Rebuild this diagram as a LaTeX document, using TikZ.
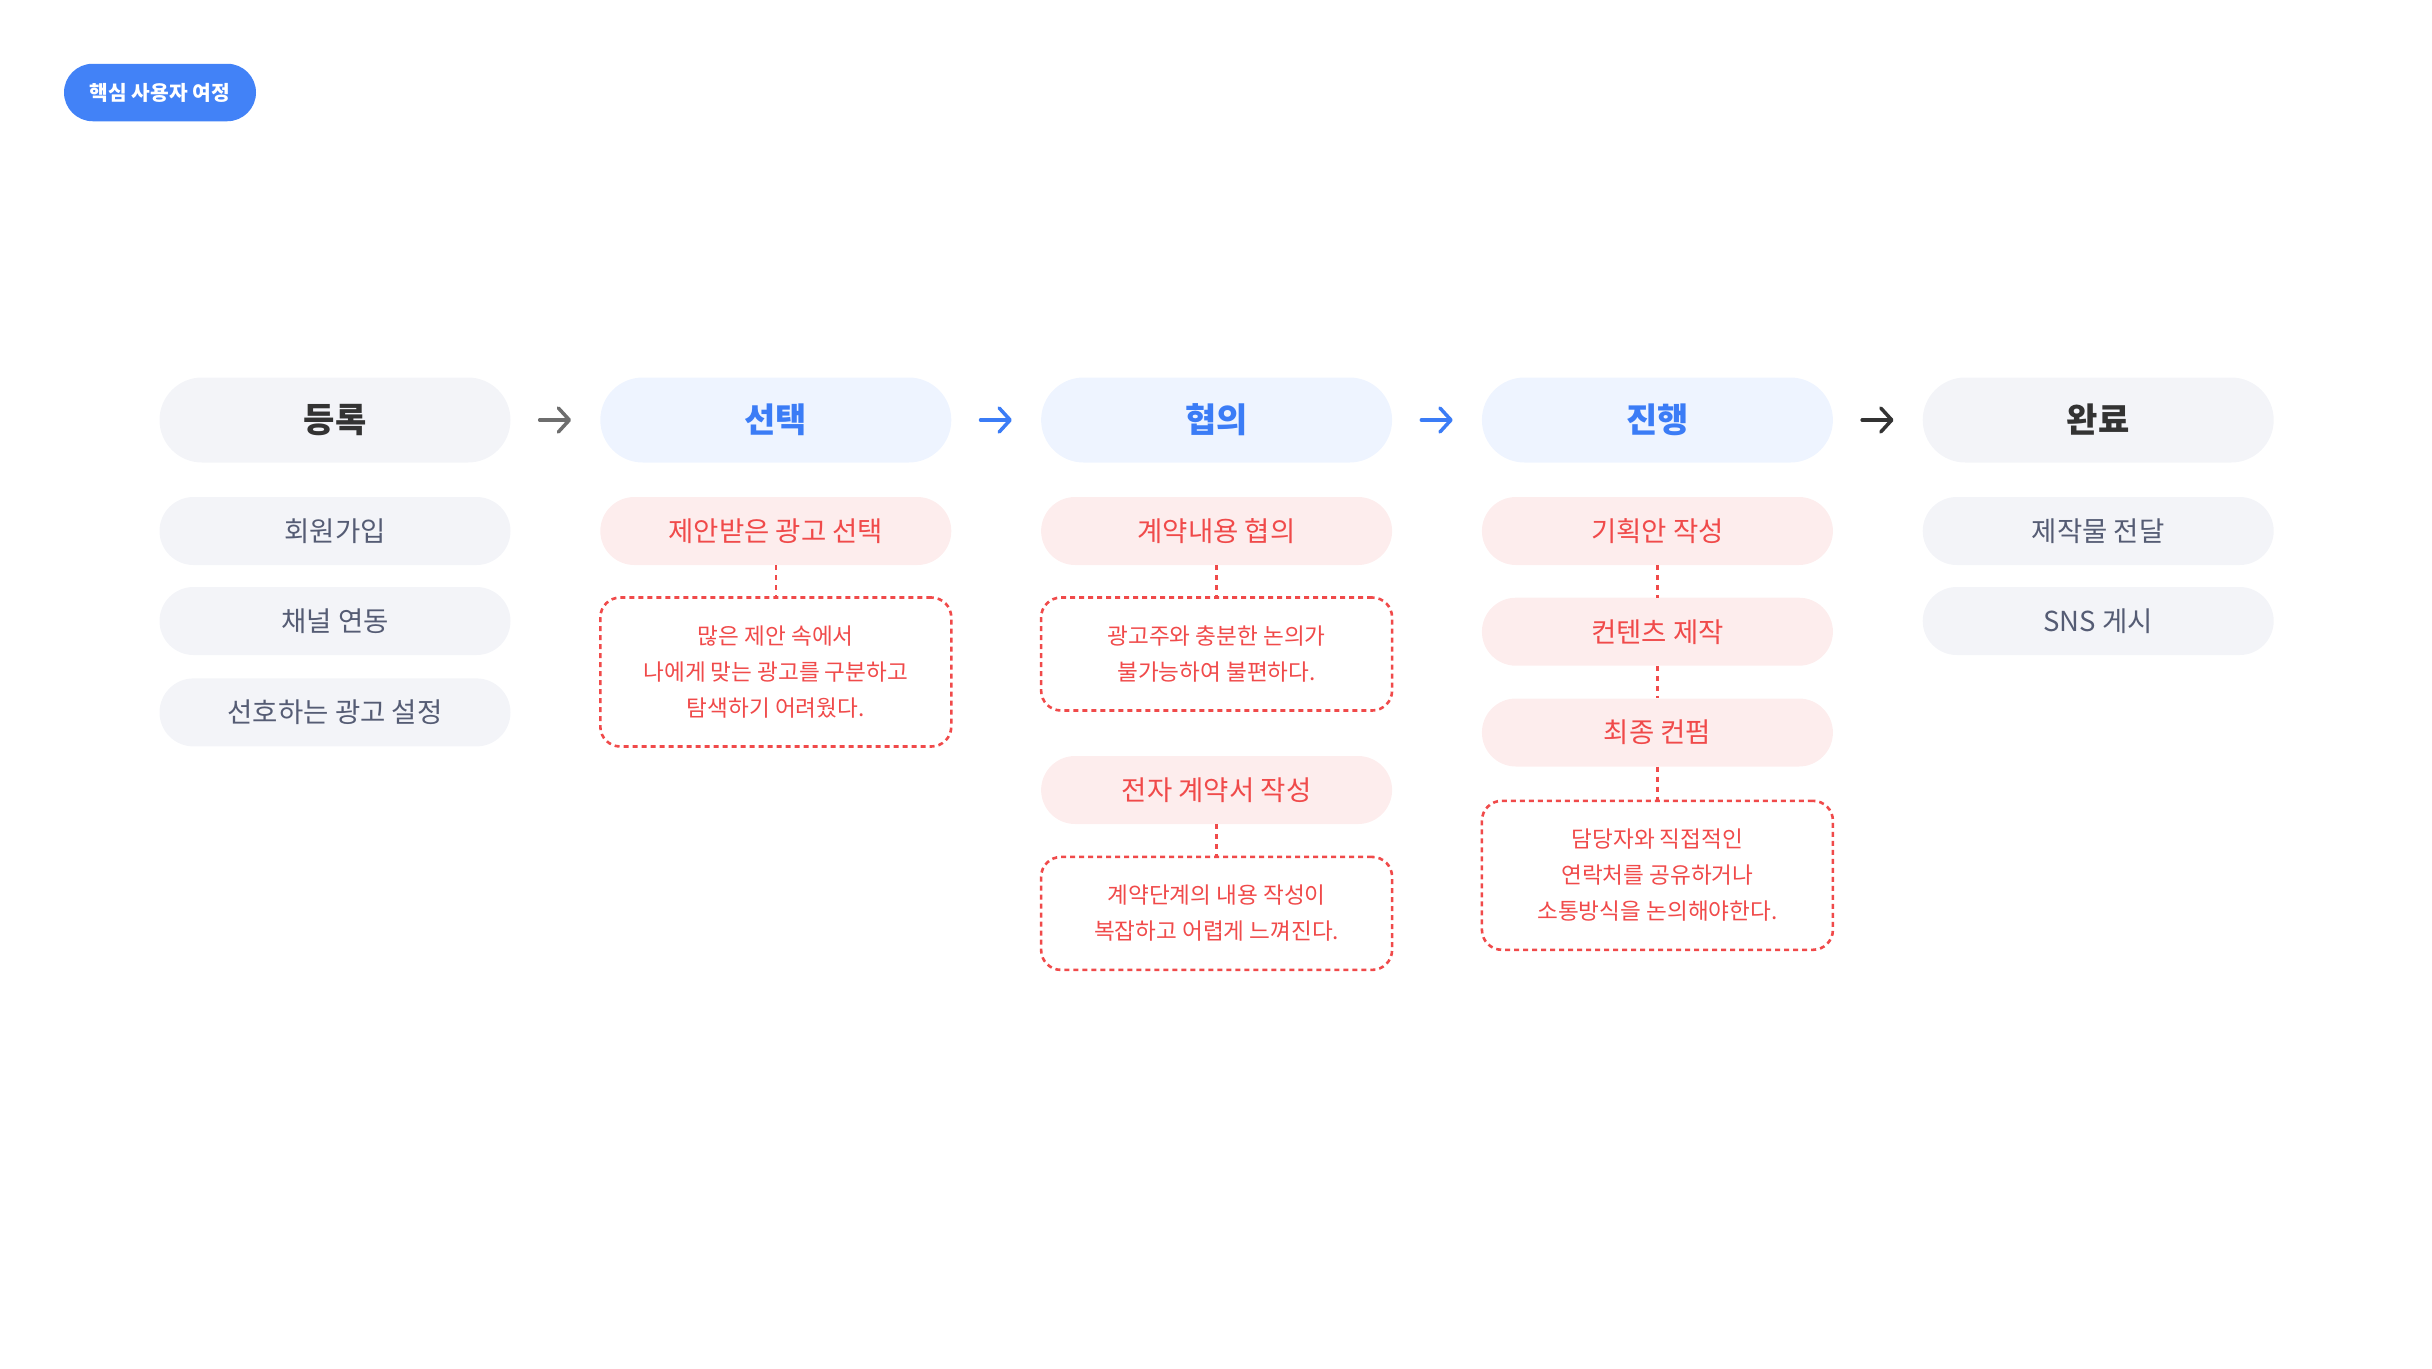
\documentclass[tikz,border=0pt]{standalone}
\usepackage{fontspec}
\setmainfont{Noto Sans CJK KR}
\usetikzlibrary{arrows.meta}
\definecolor{badgeblue}{HTML}{4282F7}
\definecolor{graybg}{HTML}{F3F4F8}
\definecolor{bluebg}{HTML}{EEF4FF}
\definecolor{redbg}{HTML}{FDEDED}
\definecolor{darktxt}{HTML}{333333}
\definecolor{bluetxt}{HTML}{3B7CF6}
\definecolor{slatetxt}{HTML}{555C74}
\definecolor{redtxt}{HTML}{F04A4A}
\definecolor{arrgray}{HTML}{6E6E6E}
\definecolor{arrdark}{HTML}{333333}
\begin{document}
\begin{tikzpicture}[x=1pt,y=-1pt,
  hdr/.style={rounded corners=42.5pt, minimum width=351pt, minimum height=85pt, inner sep=0pt,
    font=\fontsize{34}{40}\selectfont\bfseries},
  hgray/.style={hdr, fill=graybg, text=darktxt},
  hblue/.style={hdr, fill=bluebg, text=bluetxt},
  subp/.style={rounded corners=34pt, minimum width=351pt, minimum height=68pt, inner sep=0pt,
    font=\fontsize{27.5}{32}\selectfont},
  sgray/.style={subp, fill=graybg, text=slatetxt},
  sred/.style={subp, fill=redbg, text=redtxt},
  note/.style={draw=redtxt, line width=2.6pt, dash pattern=on 5pt off 4pt, rounded corners=20pt,
    minimum width=351pt, inner sep=0pt, align=center, text=redtxt, fill=white,
    font=\fontsize{22.6}{36}\selectfont},
  conn/.style={draw=redtxt, line width=2.5pt, dash pattern=on 5pt off 5pt},
  arr/.style={line width=3.5pt, line cap=round, shorten <=29pt, shorten >=29pt,
    -{Straight Barb[length=11pt,width=24pt,line cap=round,line join=round]}},
]
\useasboundingbox (0,0) rectangle (2432,1368);

\node[fill=badgeblue, rounded corners=28.75pt, minimum width=192pt, minimum height=57.5pt, inner sep=0pt,
  text=white, font=\fontsize{20.3}{24}\selectfont\bfseries] (badge) at (160,92.5) {핵심 사용자 여정};

% headers
\node[hgray] (h1) at (335,420) {등록};
\node[hblue] (h2) at (775.8,420) {선택};
\node[hblue] (h3) at (1216.6,420) {협의};
\node[hblue] (h4) at (1657.4,420) {진행};
\node[hgray] (h5) at (2098.2,420) {완료};

\draw[arr, arrgray] (h1.east) -- (h2.west);
\draw[arr, bluetxt] (h2.east) -- (h3.west);
\draw[arr, bluetxt] (h3.east) -- (h4.west);
\draw[arr, arrdark] (h4.east) -- (h5.west);

% column 1
\node[sgray] (c1a) at (335,531) {회원가입};
\node[sgray] (c1b) at (335,621) {채널 연동};
\node[sgray] (c1c) at (335,712.4) {선호하는 광고 설정};

% column 2
\node[sred] (c2a) at (775.8,531) {제안받은 광고 선택};
\node[note, minimum height=149pt] (n2a) at (775.8,672) {많은 제안 속에서\\나에게 맞는 광고를 구분하고\\탐색하기 어려웠다.};
\draw[conn] (c2a.south) -- (n2a.north);

% column 3
\node[sred] (c3a) at (1216.6,531) {계약내용 협의};
\node[note, minimum height=113pt] (n3a) at (1216.6,654) {광고주와 충분한 논의가\\불가능하여 불편하다.};
\node[sred] (c3b) at (1216.6,790) {전자 계약서 작성};
\node[note, minimum height=113pt] (n3b) at (1216.6,913.4) {계약단계의 내용 작성이\\복잡하고 어렵게 느껴진다.};
\draw[conn] (c3a.south) -- (n3a.north);
\draw[conn] (c3b.south) -- (n3b.north);

% column 4
\node[sred] (c4a) at (1657.4,531) {기획안 작성};
\node[sred] (c4b) at (1657.4,631.7) {컨텐츠 제작};
\node[sred] (c4c) at (1657.4,732.5) {최종 컨펌};
\node[note, minimum height=149pt] (n4a) at (1657.4,875.3) {담당자와 직접적인\\연락처를 공유하거나\\소통방식을 논의해야한다.};
\draw[conn] (c4a.south) -- (c4b.north);
\draw[conn] (c4b.south) -- (c4c.north);
\draw[conn] (c4c.south) -- (n4a.north);

% column 5
\node[sgray] (c5a) at (2098.2,531) {제작물 전달};
\node[sgray] (c5b) at (2098.2,621) {SNS 게시};
\end{tikzpicture}
\end{document}
